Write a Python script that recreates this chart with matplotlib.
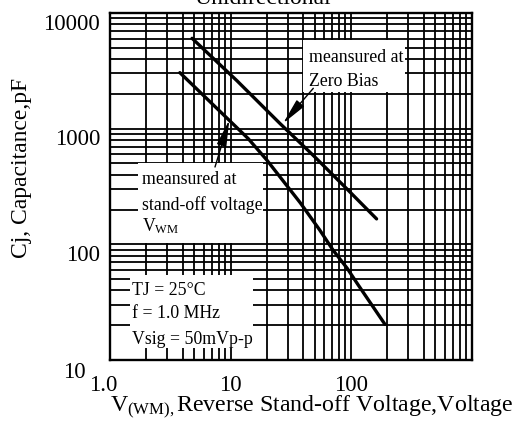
import matplotlib
matplotlib.use('Agg')
import matplotlib.pyplot as plt
from matplotlib.patches import Rectangle
from matplotlib.ticker import LogLocator, NullFormatter
from matplotlib.transforms import ScaledTranslation

# values
zero_bias_v = [4.8, 11.3, 25.7, 48.7, 92, 163]
zero_bias_cj = [6040, 2600, 1110, 586, 303, 166]

standoff_v = [3.8, 7, 14, 20, 38, 55, 71, 93, 114, 191]
standoff_cj = [3050, 1650, 822, 536, 228, 133, 89, 62, 45, 20.4]

x_ticks = [1, 10, 100]
x_tick_labels = ['1.0', '10', '100']
y_ticks = [10, 100, 1000, 10000]
y_tick_labels = ['10', '100', '1000', '10000']


def px(x, y):
    # pixel spot of the 526x425 picture -> axes fraction
    return ((x - 110) / 361.5, (360 - y) / 347)


def box(ax, x0, y0, x1, y1):
    a = px(x0, y1)
    b = px(x1, y0)
    ax.add_patch(Rectangle(a, b[0] - a[0], b[1] - a[1], transform=ax.transAxes,
                           facecolor='white', edgecolor='none', zorder=1))


def lines(ax, x, rows, size=12.8):
    for text, y in rows:
        ax.text(*px(x, y), text, transform=ax.transAxes, fontsize=size,
                va='baseline', ha='left', zorder=3)


def main():
    plt.rcParams['font.family'] = 'Liberation Serif'
    plt.rcParams['mathtext.fontset'] = 'custom'
    plt.rcParams['mathtext.rm'] = 'Liberation Serif'
    plt.rcParams['mathtext.it'] = 'Liberation Serif:italic'
    plt.rcParams['mathtext.bf'] = 'Liberation Serif:bold'

    fig = plt.figure(figsize=(5.26, 4.25), dpi=100)
    ax = fig.add_axes([110 / 526, 65 / 425, 361.5 / 526, 347 / 425])

    ax.set_xscale('log')
    ax.set_yscale('log')
    ax.set_xlim(1, 1000)
    ax.set_ylim(10, 10000)

    # curves
    ax.plot(zero_bias_v, zero_bias_cj, color='black', lw=2.4, zorder=3,
            solid_capstyle='round')
    ax.plot(standoff_v, standoff_cj, color='black', lw=2.4, zorder=3,
            solid_capstyle='round')

    # grid
    ax.xaxis.set_minor_locator(LogLocator(base=10, subs=range(2, 10)))
    ax.yaxis.set_minor_locator(LogLocator(base=10, subs=range(2, 10)))
    ax.xaxis.set_minor_formatter(NullFormatter())
    ax.yaxis.set_minor_formatter(NullFormatter())
    ax.set_axisbelow(True)
    ax.grid(True, which='both', color='black', lw=1.3)

    ax.set_xticks(x_ticks)
    ax.set_xticklabels(x_tick_labels)
    ax.set_yticks(y_ticks)
    ax.set_yticklabels(y_tick_labels)
    ax.tick_params(which='both', length=0, labelsize=16.5)
    ax.tick_params(axis='x', pad=10.5)
    ax.tick_params(axis='y', pad=7)

    for s in ax.spines.values():
        s.set_linewidth(1.7)
        s.set_color('black')

    # nudge tick labels like the original
    dpi = fig.dpi_scale_trans
    yt = ax.yaxis.get_major_ticks()
    for i, t in enumerate(yt):
        if i == 0:
            off = ScaledTranslation(-15 / 100, -10 / 100, dpi)
        else:
            off = ScaledTranslation(0, -8.5 / 100, dpi)
        t.label1.set_transform(t.label1.get_transform() + off)
    xt = ax.xaxis.get_major_ticks()
    xt[0].label1.set_transform(xt[0].label1.get_transform() +
                               ScaledTranslation(-7 / 100, 0, dpi))

    # axis titles
    ax.set_xlabel(r'V$_{\mathrm{(WM),}}$Reverse Stand-off Voltage,Voltage',
                  fontsize=17.2, ha='left')
    ax.xaxis.set_label_coords(0.0, -0.098)
    ax.set_ylabel('Cj, Capacitance,pF', fontsize=17)
    ax.yaxis.set_label_coords(-0.2166, 0.5548)

    fig.text(0.5, 1 - 3.5 / 425, 'Unidirectional', ha='center', va='baseline',
             fontsize=17)

    # note boxes
    box(ax, 303, 40, 405, 92)
    lines(ax, 309.3, [('meansured at', 62.3), ('Zero Bias', 85.7)])

    box(ax, 137.7, 163.3, 263, 243)
    lines(ax, 141.7, [('meansured at', 184.3), ('stand-off voltage', 210),
                      (r'V$_{\mathrm{WM}}$', 231.7)])

    box(ax, 130, 275, 252.7, 348.3)
    lines(ax, 132.3, [('TJ = 25°C', 295), ('f = 1.0 MHz', 318.3),
                      ('Vsig = 50mVp-p', 344)])

    arrow = dict(arrowstyle='-|>,head_length=0.8,head_width=0.15',
                 color='black', lw=1.0, mutation_scale=20,
                 shrinkA=0, shrinkB=0)
    ax.annotate('', xy=(27.3, 1111), xycoords='data',
                xytext=px(313.3, 88.3), textcoords='axes fraction',
                arrowprops=arrow, zorder=4)
    ax.annotate('', xy=(9.77, 1188), xycoords='data',
                xytext=px(215, 167), textcoords='axes fraction',
                arrowprops=arrow, zorder=4)

    fig.savefig('out.png', dpi=100)


if __name__ == "__main__":
    main()
